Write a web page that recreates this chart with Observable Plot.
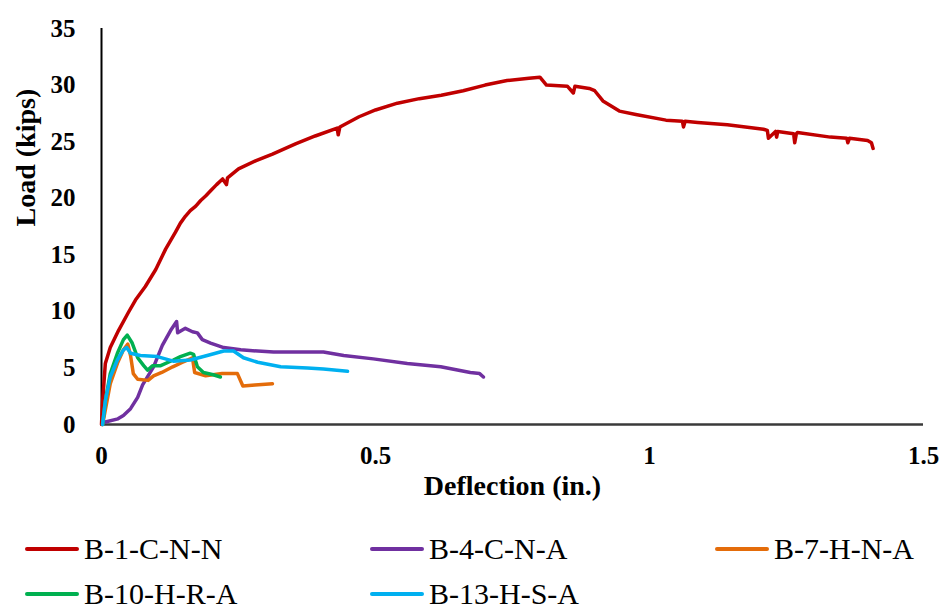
<!DOCTYPE html>
<html>
<head>
<meta charset="utf-8">
<script src="https://cdn.jsdelivr.net/npm/d3@7"></script>
<script src="https://cdn.jsdelivr.net/npm/@observablehq/plot@0.6"></script>
<style>
  html, body { margin: 0; padding: 0; background: #fff; overflow: hidden; }
  #chart { width: 946px; }
  .legend { position: relative; width: 946px; height: 102px; font-family: "Liberation Serif", "Times New Roman", serif; font-size: 30px; line-height: 26px; color: #000; }
  .item { position: absolute; display: flex; align-items: center; white-space: nowrap; height: 26px; }
  .swatch { width: 54px; height: 4px; border-radius: 2px; margin-right: 5px; }
</style>
</head>
<body>
<div id="chart"></div>
<script>
// Series names and colours
const seriesNames = ["B-1-C-N-N", "B-4-C-N-A", "B-7-H-N-A", "B-10-H-R-A", "B-13-H-S-A"];
const seriesColors = ["#C00000", "#7030A0", "#E46C0A", "#00B050", "#00B0F0"];

// Tick labels
const xTicks = [0, 0.5, 1, 1.5];
const yTicks = [0, 5, 10, 15, 20, 25, 30, 35];

// B-1-C-N-N
const b1Defl = [0, 0.002, 0.007, 0.016, 0.031, 0.049, 0.062, 0.080, 0.099, 0.117, 0.135, 0.144, 0.153, 0.162, 0.172, 0.181, 0.190, 0.20, 0.21, 0.221, 0.228, 0.230, 0.250, 0.281, 0.312, 0.354, 0.39, 0.43, 0.432, 0.435, 0.47, 0.50, 0.54, 0.58, 0.62, 0.66, 0.70, 0.74, 0.78, 0.80, 0.812, 0.85, 0.861, 0.864, 0.89, 0.90, 0.915, 0.945, 0.975, 1.03, 1.06, 1.062, 1.065, 1.088, 1.142, 1.208, 1.215, 1.217, 1.23, 1.232, 1.234, 1.263, 1.265, 1.268, 1.27, 1.33, 1.36, 1.362, 1.365, 1.398, 1.405, 1.408];
const b1Load = [0, 2.0, 5.4, 6.8, 8.3, 9.9, 11.0, 12.2, 13.7, 15.5, 17.0, 17.8, 18.4, 18.9, 19.3, 19.8, 20.2, 20.7, 21.2, 21.7, 21.2, 21.8, 22.6, 23.3, 23.9, 24.8, 25.5, 26.2, 25.6, 26.3, 27.2, 27.8, 28.4, 28.8, 29.1, 29.5, 30.0, 30.4, 30.6, 30.7, 30.0, 29.9, 29.3, 29.9, 29.7, 29.5, 28.6, 27.7, 27.4, 26.9, 26.8, 26.3, 26.8, 26.7, 26.5, 26.1, 26.0, 25.3, 25.9, 25.4, 25.9, 25.7, 24.9, 25.7, 25.8, 25.4, 25.3, 24.9, 25.3, 25.1, 24.9, 24.4];

// B-4-C-N-A
const b4Defl = [0.005, 0.03, 0.04, 0.053, 0.066, 0.075, 0.095, 0.111, 0.126, 0.137, 0.139, 0.153, 0.166, 0.175, 0.184, 0.199, 0.223, 0.254, 0.314, 0.405, 0.442, 0.496, 0.558, 0.619, 0.673, 0.69, 0.697];
const b4Load = [0.2, 0.5, 0.8, 1.4, 2.4, 3.5, 5.1, 7.0, 8.3, 9.1, 8.1, 8.5, 8.2, 8.1, 7.5, 7.2, 6.8, 6.6, 6.4, 6.4, 6.1, 5.8, 5.4, 5.1, 4.6, 4.5, 4.2];

// B-7-H-N-A
const b7Defl = [0.002, 0.016, 0.029, 0.04, 0.048, 0.053, 0.058, 0.066, 0.085, 0.095, 0.11, 0.13, 0.148, 0.162, 0.166, 0.17, 0.19, 0.22, 0.248, 0.258, 0.28, 0.312];
const b7Load = [0, 3.6, 5.4, 6.6, 7.1, 6.1, 4.5, 4.0, 3.9, 4.3, 4.6, 5.1, 5.5, 5.8, 5.9, 4.6, 4.3, 4.5, 4.5, 3.4, 3.5, 3.6];

// B-10-H-R-A
const b10Defl = [0.002, 0.007, 0.016, 0.029, 0.04, 0.047, 0.056, 0.066, 0.077, 0.084, 0.093, 0.108, 0.131, 0.144, 0.162, 0.168, 0.175, 0.186, 0.204, 0.217];
const b10Load = [0, 2.1, 4.5, 6.3, 7.5, 7.9, 7.2, 5.9, 5.2, 4.8, 5.2, 5.2, 5.7, 6.0, 6.3, 6.2, 5.1, 4.6, 4.4, 4.2];

// B-13-H-S-A
const b13Defl = [0.002, 0.007, 0.016, 0.029, 0.04, 0.046, 0.053, 0.071, 0.102, 0.131, 0.162, 0.193, 0.223, 0.241, 0.259, 0.285, 0.327, 0.376, 0.405, 0.449];
const b13Load = [0, 2.1, 4.2, 5.7, 6.6, 6.8, 6.3, 6.1, 6.0, 5.6, 5.7, 6.1, 6.5, 6.5, 5.9, 5.5, 5.1, 5.0, 4.9, 4.7];

const deflArrays = [b1Defl, b4Defl, b7Defl, b10Defl, b13Defl];
const loadArrays = [b1Load, b4Load, b7Load, b10Load, b13Load];

const rows = [];
seriesNames.forEach((name, i) => {
  deflArrays[i].forEach((d, j) => rows.push({series: name, defl: d, load: loadArrays[i][j]}));
});

const font = '"Liberation Serif", "Times New Roman", serif';

const chart = Plot.plot({
  width: 946,
  height: 510,
  marginLeft: 101,
  marginRight: 23,
  marginTop: 28,
  marginBottom: 86,
  style: {fontFamily: font, fontSize: "25px", fontWeight: "bold", color: "#000", background: "#fff"},
  x: {domain: [0, 1.5]},
  y: {domain: [0, 35]},
  color: {domain: seriesNames, range: seriesColors},
  marks: [
    Plot.axisX({ticks: xTicks, tickSize: 0, tickPadding: 22, label: null, tickFormat: d => String(d)}),
    Plot.axisY({ticks: yTicks, tickSize: 0, tickPadding: 26, label: null}),
    Plot.ruleY([0], {stroke: "#3a3a3a", strokeWidth: 2.5}),
    Plot.ruleX([0], {stroke: "#000", strokeWidth: 2}),
    Plot.line(rows, {x: "defl", y: "load", z: "series", stroke: "series", strokeWidth: 3.5, curve: "linear"}),
    Plot.text(["Deflection (in.)"], {frameAnchor: "bottom", dy: 70, fontSize: 28, fontWeight: "bold", fill: "#000"}),
    Plot.text(["Load (kips)"], {frameAnchor: "left", dx: -75, rotate: -90, fontSize: 28, fontWeight: "bold", fill: "#000"})
  ]
});
document.getElementById("chart").appendChild(chart);

// Legend below the chart
const legend = document.createElement("div");
legend.className = "legend";
const positions = [[25, 39], [370, 39], [715, 39], [25, 84], [370, 84]];
seriesNames.forEach((name, i) => {
  const item = document.createElement("div");
  item.className = "item";
  item.style.left = positions[i][0] + "px";
  item.style.top = (positions[i][1] - 13) + "px";
  const sw = document.createElement("div");
  sw.className = "swatch";
  sw.style.background = seriesColors[i];
  const label = document.createElement("span");
  label.textContent = name;
  item.appendChild(sw);
  item.appendChild(label);
  legend.appendChild(item);
});
document.body.appendChild(legend);
</script>
</body>
</html>
